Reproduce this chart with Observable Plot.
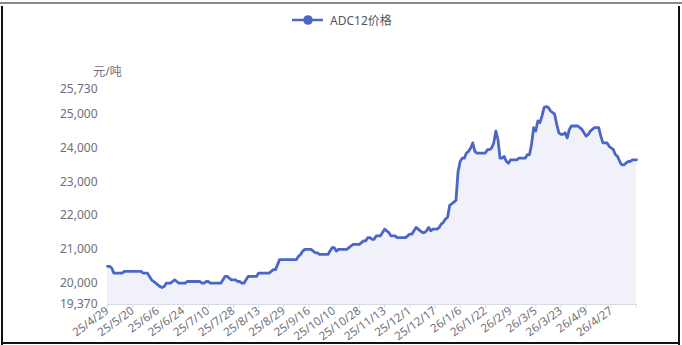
<!DOCTYPE html>
<html>
<head>
<meta charset="utf-8">
<script src="https://cdn.jsdelivr.net/npm/d3@7"></script>
<script src="https://cdn.jsdelivr.net/npm/@observablehq/plot@0.6"></script>
<style>
  html, body { margin: 0; padding: 0; background: #fff; }
  #wrap { position: relative; width: 682px; height: 345px; overflow: hidden; font-family: "Noto Sans", "Noto Sans CJK SC", sans-serif; }
  #legend { height: 40px; position: relative; }
  #legend svg { position: absolute; left: 0; top: 0; }
  .edge { position: absolute; }
</style>
</head>
<body>
<div id="wrap">
  <div id="legend"></div>
  <div id="chart"></div>
  <div class="edge" style="left:0;top:2px;width:682px;height:2px;background:#8a8a8a"></div>
  <div class="edge" style="left:1px;top:6px;width:2px;height:339px;background:#111"></div>
  <div class="edge" style="left:678px;top:6px;width:2px;height:339px;background:#111"></div>
  <div class="edge" style="left:1px;top:342px;width:679px;height:2px;background:#111"></div>
</div>
<script>
// ADC12 daily price, yuan per tonne, one value per trading day
const prices = [
  20500, 20500, 20450, 20300, 20300, 20300, 20300, 20300, 20350, 20350,
  20350, 20350, 20350, 20350, 20350, 20350, 20350, 20300, 20300, 20300,
  20200, 20100, 20050, 20000, 19950, 19900, 19870, 19900, 20000, 20000,
  20000, 20050, 20100, 20050, 20000, 20000, 20000, 20000, 20050, 20050,
  20050, 20050, 20050, 20050, 20050, 20000, 20000, 20050, 20050, 20000,
  20000, 20000, 20000, 20000, 20000, 20100, 20200, 20200, 20150, 20100,
  20100, 20100, 20050, 20050, 20000, 20000, 20100, 20200, 20200, 20200,
  20200, 20200, 20300, 20300, 20300, 20300, 20300, 20300, 20350, 20400,
  20400, 20550, 20700, 20700, 20700, 20700, 20700, 20700, 20700, 20700,
  20700, 20800, 20850, 20950, 21000, 21000, 21000, 21000, 20950, 20900,
  20900, 20850, 20850, 20850, 20850, 20850, 20950, 21050, 21050, 20950,
  21000, 21000, 21000, 21000, 21000, 21050, 21100, 21150, 21150, 21150,
  21150, 21200, 21250, 21250, 21350, 21350, 21300, 21300, 21400, 21400,
  21400, 21500, 21600, 21550, 21500, 21400, 21400, 21400, 21350, 21350,
  21350, 21350, 21350, 21400, 21450, 21450, 21550, 21650, 21600, 21550,
  21500, 21500, 21550, 21650, 21550, 21600, 21600, 21600, 21650, 21750,
  21800, 21900, 21950, 22300, 22350, 22400, 22450, 23300, 23600, 23700,
  23700, 23850, 23900, 24000, 24150, 23900, 23850, 23850, 23850, 23850,
  23850, 23950, 23950, 24000, 24150, 24500, 24250, 23700, 23700, 23750,
  23600, 23550, 23650, 23650, 23650, 23650, 23700, 23700, 23700, 23700,
  23800, 23800, 24100, 24600, 24500, 24800, 24750, 24950, 25200, 25230,
  25200, 25100, 25050, 25000, 24700, 24450, 24400, 24400, 24450, 24300,
  24550, 24650, 24650, 24650, 24650, 24600, 24550, 24450, 24350, 24400,
  24500, 24550, 24600, 24600, 24600, 24350, 24150, 24150, 24150, 24050,
  24000, 23950, 23800, 23750, 23600, 23500, 23500, 23550, 23600, 23600,
  23650, 23650, 23650
];

// category labels shown every 12th trading day
const dateLabels = [
  "25/4/29", "25/5/20", "25/6/6", "25/6/24", "25/7/10", "25/7/28", "25/8/13",
  "25/8/29", "25/9/16", "25/10/10", "25/10/28", "25/11/13", "25/12/1", "25/12/17",
  "26/1/6", "26/1/22", "26/2/9", "26/3/5", "26/3/23", "26/4/9", "26/4/27"
];
const labelStep = 12;

const yTicks = [19370, 20000, 21000, 22000, 23000, 24000, 25000, 25730];
const seriesName = "ADC12价格";
const unitLabel = "元/吨";

const lineColor = "#4a66c6";
const textColor = "#6e7079";
const fontStack = '"Noto Sans", "Noto Sans CJK SC", sans-serif';

const rows = prices.map((p, i) => ({i, p}));
const yMin = yTicks[0], yMax = yTicks[yTicks.length - 1];
const lastIndex = prices.length - 1;
const xTicks = d3.range(0, lastIndex + 1, labelStep);

// legend
const leg = d3.select("#legend").append("svg").attr("width", 682).attr("height", 40);
leg.append("line").attr("x1", 292).attr("x2", 323).attr("y1", 20).attr("y2", 20)
  .attr("stroke", lineColor).attr("stroke-width", 2.5);
leg.append("circle").attr("cx", 308).attr("cy", 20).attr("r", 4.8).attr("fill", lineColor);
leg.append("text").attr("x", 330).attr("y", 24.5).text(seriesName)
  .attr("fill", "#555").attr("font-size", 12).attr("font-family", fontStack);

const chart = Plot.plot({
  width: 682,
  height: 305,
  marginTop: 49,
  marginBottom: 41,
  marginLeft: 107,
  marginRight: 46,
  style: {fontSize: "12px", fontFamily: fontStack, color: textColor, background: "transparent", overflow: "visible"},
  x: {domain: [0, lastIndex], label: null},
  y: {domain: [yMin, yMax], label: null},
  marks: [
    Plot.areaY(rows, {x: "i", y1: () => yMin, y2: "p", fill: "#f1f2f9"}),
    Plot.ruleY([yMin], {stroke: "#d9dbe3", strokeWidth: 1}),
    Plot.axisX({
      ticks: xTicks,
      tickSize: 4,
      tickPadding: 1,
      tickRotate: -36,
      fontSize: 11.5,
      stroke: "#d9dbe3",
      fill: textColor,
      label: null,
      tickFormat: i => dateLabels[i / labelStep] ?? ""
    }),
    Plot.axisY({
      ticks: yTicks,
      tickSize: 0,
      tickPadding: 10,
      fill: textColor,
      tickFormat: d3.format(","),
      label: null
    }),
    Plot.text([unitLabel], {frameAnchor: "top-left", dy: -22, textAnchor: "middle", fill: textColor, fontSize: 12}),
    Plot.lineY(rows, {x: "i", y: "p", stroke: lineColor, strokeWidth: 2.8, strokeLinejoin: "round", strokeLinecap: "round"})
  ]
});
document.getElementById("chart").append(chart);
</script>
</body>
</html>
